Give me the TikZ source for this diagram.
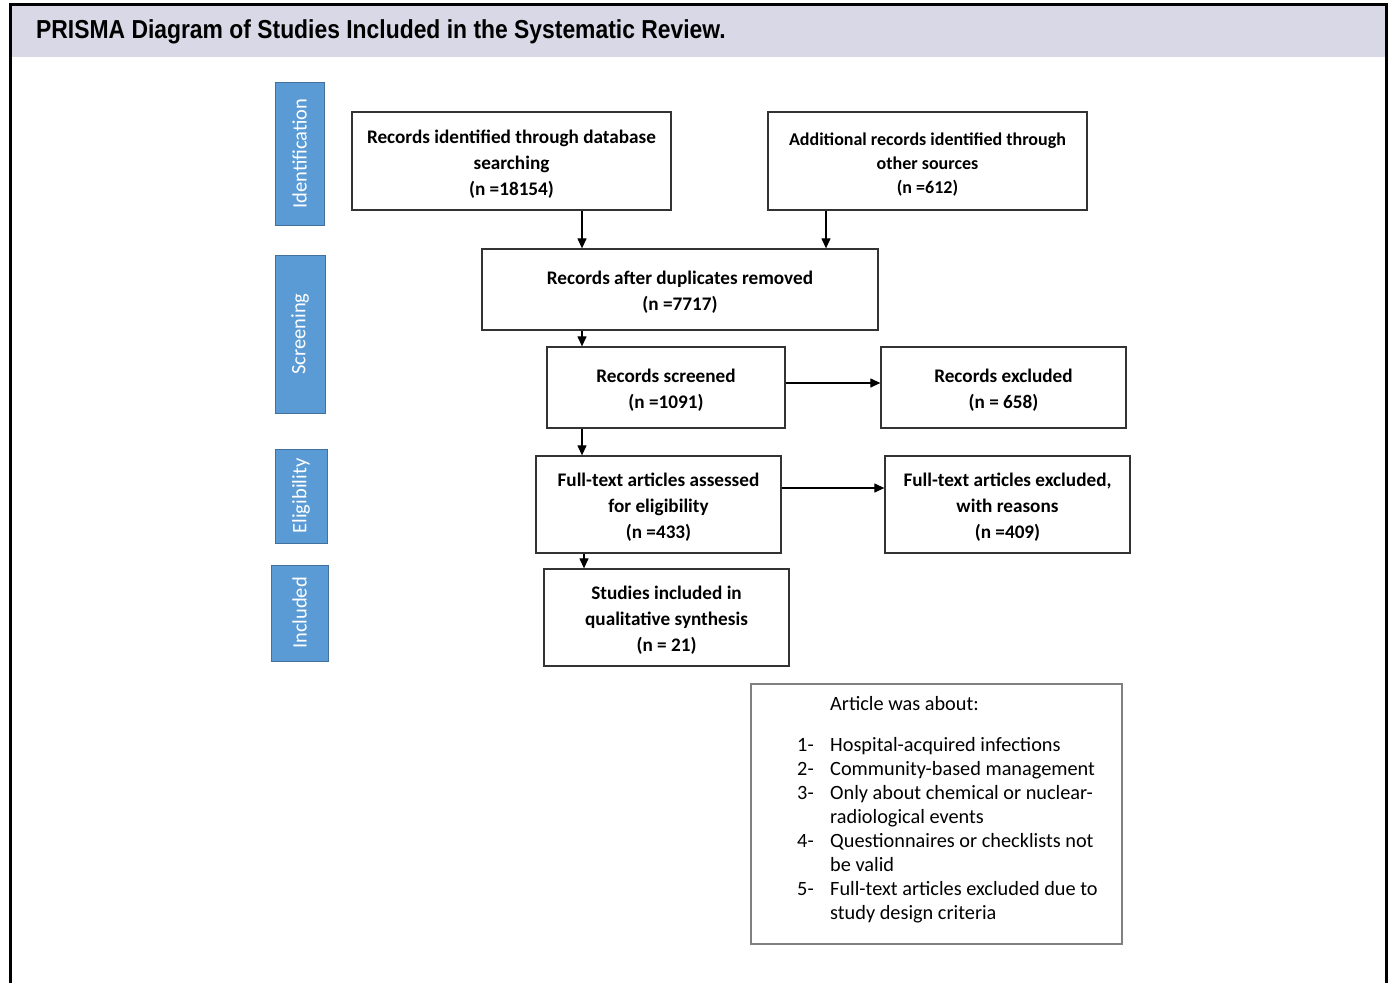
\documentclass[tikz,border=0pt]{standalone}
\usepackage{fontspec}
\setmainfont{Carlito}
\newfontfamily\headfont[FakeStretch=0.88]{Liberation Sans}
\usetikzlibrary{arrows.meta}
\definecolor{bandcol}{HTML}{D9D8E6}
\definecolor{sideblue}{HTML}{5B9BD5}
\definecolor{sideedge}{HTML}{41719C}
\definecolor{boxedge}{HTML}{333333}
\definecolor{listedge}{HTML}{808080}
\newcommand{\topstrut}{\rule{0pt}{19pt}}
\tikzset{
  box/.style={draw=boxedge, line width=1.3pt, fill=white, align=center, inner sep=0pt,
    font=\bfseries\fontsize{19.2}{26}\selectfont},
  smallbox/.style={box, font=\bfseries\fontsize{18}{24}\selectfont},
  side/.style={draw=sideedge, line width=1pt, fill=sideblue, inner sep=0pt},
  sidetext/.style={rotate=90, text=white, inner sep=0pt, font=\fontsize{20.5}{22}\selectfont},
  arr/.style={draw=black, line width=1.2pt, -{Triangle[length=10pt,width=9pt]}},
  listbox/.style={draw=listedge, line width=1.4pt, fill=white, inner sep=0pt},
  listtext/.style={inner sep=0pt, align=left, font=\fontsize{20.3}{24}\selectfont},
  headtext/.style={inner sep=0pt, anchor=west, font=\headfont\bfseries\fontsize{26}{30}\selectfont}
}
\begin{document}
\begin{tikzpicture}[x=1pt,y=-1pt]
\useasboundingbox (0,0) rectangle (1393,983);
% frame and header band
\fill[bandcol] (11,5) rectangle (1385,57);
\draw[line width=3pt] (10,983) -- (10,4) -- (1386,4) -- (1386,983);
\node[headtext] (title) at (36,32) {PRISMA Diagram of Studies Included in the Systematic Review.};
% side labels
\node[side, minimum width=49pt, minimum height=143pt] (sid) at (299.5,153.5) {};
\node[sidetext] (sidt) at (sid.center) {Identification};
\node[side, minimum width=50pt, minimum height=158pt] (sscr) at (300,334) {};
\node[sidetext] (sscrt) at (sscr.center) {Screening};
\node[side, minimum width=52pt, minimum height=94pt] (selg) at (301,496) {};
\node[sidetext] (selgt) at (selg.center) {Eligibility};
\node[side, minimum width=57pt, minimum height=96pt] (sinc) at (299.5,613) {};
\node[sidetext] (sinct) at (sinc.center) {Included};
% boxes
\node[box, minimum width=319pt, minimum height=98pt] (A) at (511.5,161) {\topstrut Records identified through database\\searching\\(n =18154)};
\node[smallbox, minimum width=319pt, minimum height=98pt] (B) at (927.5,161) {\topstrut Additional records identified through\\other sources\\(n =612)};
\node[box, minimum width=396pt, minimum height=81pt] (C) at (680,289.5) {\topstrut Records after duplicates removed\\(n =7717)};
\node[box, minimum width=238pt, minimum height=81pt] (D) at (666,387.5) {\topstrut Records screened\\(n =1091)};
\node[box, minimum width=245pt, minimum height=81pt] (E) at (1003.5,387.5) {\topstrut Records excluded\\(n = 658)};
\node[box, minimum width=245pt, minimum height=97pt] (F) at (658.5,504.5) {\topstrut Full-text articles assessed\\for eligibility\\(n =433)};
\node[box, minimum width=245pt, minimum height=97pt] (G) at (1007.5,504.5) {\topstrut Full-text articles excluded,\\with reasons\\(n =409)};
\node[box, minimum width=245pt, minimum height=97pt] (H) at (666.5,617.5) {\topstrut Studies included in\\qualitative synthesis\\(n = 21)};
% list box
\node[listbox, minimum width=371pt, minimum height=260pt] (I) at (936.5,814) {};
\node[listtext, anchor=north west] (It) at (797,693.5) {%
\begin{tabular}{@{}p{33pt}@{}l@{}}
 & Article was about:\\[17pt]
1- & Hospital-acquired infections\\
2- & Community-based management\\
3- & Only about chemical or nuclear-\\
   & radiological events\\
4- & Questionnaires or checklists not\\
   & be valid\\
5- & Full-text articles excluded due to\\
   & study design criteria
\end{tabular}};
% arrows
\draw[arr] ([xshift=70.5pt]A.south) -- ([xshift=70.5pt]A.south |- C.north);
\draw[arr] ([xshift=-101.5pt]B.south) -- ([xshift=-101.5pt]B.south |- C.north);
\draw[arr] ([xshift=-98pt]C.south) -- ([xshift=-98pt]C.south |- D.north);
\draw[arr] ([xshift=-84pt]D.south) -- ([xshift=-84pt]D.south |- F.north);
\draw[arr] ([xshift=-74.5pt]F.south) -- ([xshift=-74.5pt]F.south |- H.north);
\draw[arr] ([yshift=4.5pt]D.east) -- ([yshift=4.5pt]D.east -| E.west);
\draw[arr] ([yshift=16.5pt]F.east) -- ([yshift=16.5pt]F.east -| G.west);
\end{tikzpicture}
\end{document}
